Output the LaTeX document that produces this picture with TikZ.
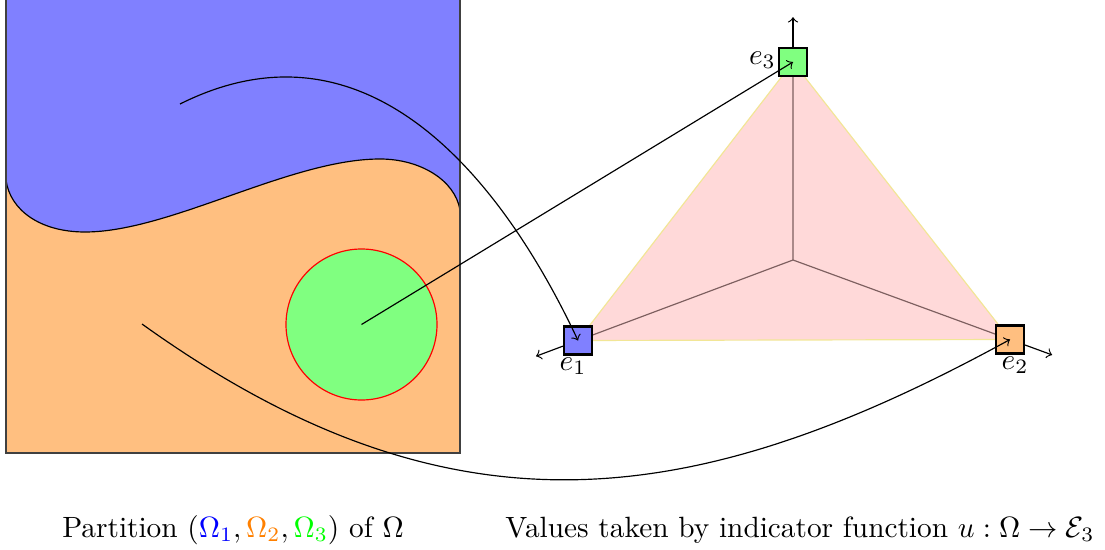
\documentclass[tikz,border=0pt]{standalone}
\usetikzlibrary{calc}
\definecolor{tribord}{RGB}{242,230,150}
\definecolor{spoke}{RGB}{125,95,95}
\definecolor{pureorange}{RGB}{255,128,0}
\definecolor{puregreen}{RGB}{0,255,0}
\definecolor{pureblue}{RGB}{0,0,255}
\begin{document}
\begin{tikzpicture}[x=0.341pt,y=-0.341pt,
  vbox/.style={draw=black, line width=0.8pt, minimum size=9.5pt, inner sep=0pt},
  lbl/.style={inner sep=0.5pt},
  outarrow/.style={->},
  conn/.style={->}]
\useasboundingbox (0,0) rectangle (1105,550);
% --- partition of Omega ---
\fill[blue!50] (6,-3) rectangle (460,453);
\fill[orange!50] (6,180) .. controls (10,210) and (40,232) .. (85,232)
  .. controls (170,232) and (290,159) .. (380,159)
  .. controls (420,159) and (455,180) .. (460,210)
  -- (460,453) -- (6,453) -- cycle;
\draw (6,180) .. controls (10,210) and (40,232) .. (85,232)
  .. controls (170,232) and (290,159) .. (380,159)
  .. controls (420,159) and (455,180) .. (460,210);
\draw[black!75] (6,-3) rectangle (460,453);
\filldraw[fill=green!50, draw=red] (361.5,324.5) circle[radius=75.5];
\coordinate (p1) at (180,104);
\coordinate (p2) at (142,324);
\coordinate (p3) at (361.5,324.5);
% --- simplex ---
\coordinate (v1) at (578,340.5);
\coordinate (v2) at (1010,339.5);
\coordinate (v3) at (793,62);
\coordinate (c) at (793,260);
\filldraw[fill=red!15, draw=tribord] (v1) -- (v2) -- (v3) -- cycle;
\draw[spoke] (c) -- (v1) (c) -- (v2) (c) -- (v3);
\node[vbox, fill=blue!50, label={[lbl, xshift=-1.7pt]below:$e_1$}] (e1) at (v1) {};
\node[vbox, fill=orange!50, label={[lbl, xshift=1.7pt]below:$e_2$}] (e2) at (v2) {};
\node[vbox, fill=green!50, label={[lbl, yshift=0.6pt]left:$e_3$}] (e3) at (v3) {};
\coordinate (t1) at ($(v1)!-15.3pt!(c)$);
\coordinate (t2) at ($(v2)!-15.3pt!(c)$);
\coordinate (t3) at ($(v3)!-15.3pt!(c)$);
\draw[outarrow] (e1) -- (t1);
\draw[outarrow] (e2) -- (t2);
\draw[outarrow] (e3) -- (t3);
% --- connectors ---
\draw[conn] (p1) .. controls (380,4) and (514,204) .. (e1.center);
\draw[conn] (p2) .. controls (450,545) and (693,513) .. (e2.center);
\draw[conn] (p3) -- (e3.center);
% --- captions ---
\node[anchor=base] (cap1) at (233,537) {Partition $(\textcolor{pureblue}{\Omega_1},\textcolor{pureorange}{\Omega_2},\textcolor{puregreen}{\Omega_3})$ of $\Omega$};
\node[anchor=base] (cap2) at (800,537) {Values taken by indicator function $u:\Omega\to\mathcal{E}_3$};
\end{tikzpicture}
\end{document}
